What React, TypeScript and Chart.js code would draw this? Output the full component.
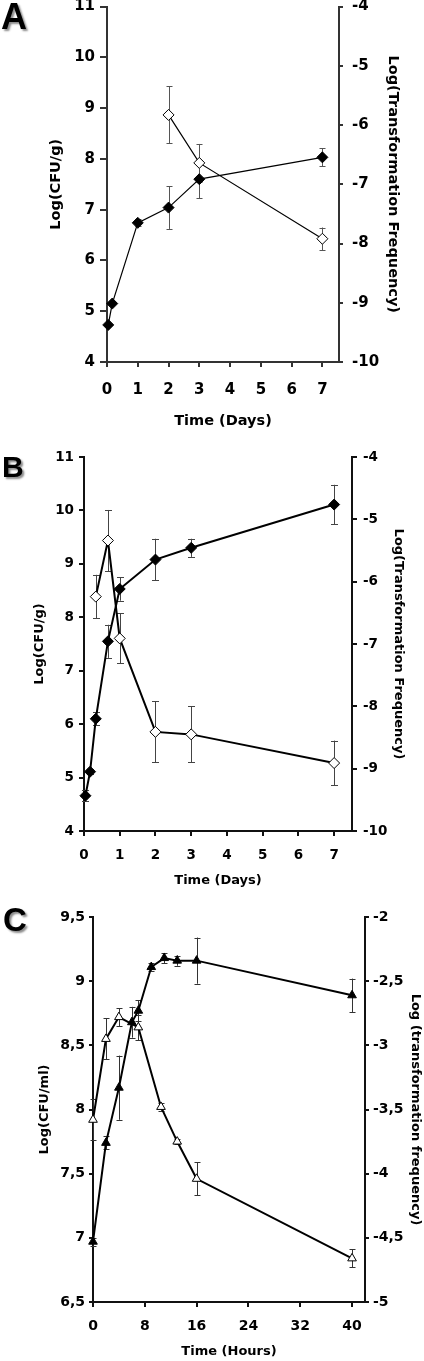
import React, { useEffect, useRef } from 'react';
import { Chart, registerables } from 'chart.js';

Chart.register(...registerables);

const FONT = "'DejaVu Sans', 'Liberation Sans', sans-serif";
const LETTER_FONT = "'Liberation Sans', Arial, sans-serif";

// ---------------- Panel A ----------------
const daysA_cfu = [0.04, 0.17, 1, 2, 3, 7];
const cfuA = [4.73, 5.15, 6.74, 7.04, 7.6, 8.03];
const cfuA_err = [0, 0, 0.07, 0.42, 0.38, 0.18];
const daysA_tf = [2, 3, 7];
const tfA = [-5.83, -6.64, -7.92];
const tfA_err = [0.48, 0.32, 0.19];
const xTicksA = [0, 1, 2, 3, 4, 5, 6, 7];
const yTicksA = [4, 5, 6, 7, 8, 9, 10, 11];
const y2TicksA = [-10, -9, -8, -7, -6, -5, -4];

// ---------------- Panel B ----------------
const daysB_cfu = [0.04, 0.17, 0.33, 0.67, 1, 2, 3, 7];
const cfuB = [4.66, 5.11, 6.1, 7.55, 8.53, 9.08, 9.3, 10.11];
const cfuB_err = [0.1, 0.05, 0.12, 0.31, 0.22, 0.39, 0.17, 0.37];
const daysB_tf = [0.33, 0.67, 1, 2, 3, 7];
const tfB = [-6.24, -5.34, -6.91, -8.41, -8.45, -8.91];
const tfB_err = [0.35, 0.49, 0.4, 0.49, 0.45, 0.36];
const xTicksB = [0, 1, 2, 3, 4, 5, 6, 7];
const yTicksB = [4, 5, 6, 7, 8, 9, 10, 11];
const y2TicksB = [-10, -9, -8, -7, -6, -5, -4];

// ---------------- Panel C ----------------
const hoursC_cfu = [0, 2, 4, 6, 7, 9, 11, 13, 16, 40];
const cfuC = [6.97, 7.74, 8.17, 8.68, 8.77, 9.11, 9.18, 9.16, 9.16, 8.89];
const cfuC_err = [0.03, 0.05, 0.25, 0.12, 0.08, 0.03, 0.04, 0.04, 0.18, 0.13];
const hoursC_tf = [0, 2, 4, 7, 10.5, 13, 16, 40];
const tfC = [-3.58, -2.95, -2.78, -2.86, -3.48, -3.75, -4.04, -4.66];
const tfC_err = [0.16, 0.16, 0.07, 0.1, 0.03, 0.02, 0.13, 0.07];
const xTicksC = [0, 8, 16, 24, 32, 40];
const yTicksC = [6.5, 7, 7.5, 8, 8.5, 9, 9.5];
const y2TicksC = [-5, -4.5, -4, -3.5, -3, -2.5, -2];

type Series = {
  xs: number[];
  ys: number[];
  errs: number[];
  axis: 'y' | 'y2';
  filled: boolean;
};

type PanelSpec = {
  letter: string;
  letterSize: number;
  letterX: number;
  letterY: number;
  top: number;
  W: number;
  H: number;
  area: { left: number; right: number; top: number; bottom: number };
  xMin: number;
  xMax: number;
  xTicks: number[];
  xTitle: string;
  yMin: number;
  yMax: number;
  yTicks: number[];
  yTitle: string;
  y2Min: number;
  y2Max: number;
  y2Ticks: number[];
  y2Title: string;
  comma: boolean;
  tickSize: number;
  titleSize: number;
  yTickLen: number;
  yTickPad: number;
  y2TickLen: number;
  y2TickPad: number;
  xTickLen: number;
  xTickPad: number;
  yTitlePad: number;
  y2TitlePad: number;
  xTitlePad: number;
  axisColor: string;
  axisWidth: number;
  lineWidth: number;
  pointStyle: string;
  pointRadius: number;
  errColor: string;
  capHalf: number;
  series: Series[];
};

const panels: PanelSpec[] = [
  {
    letter: 'A', letterSize: 36, letterX: 1, letterY: 29,
    top: 0, W: 424, H: 432,
    area: { left: 107, right: 339, top: 6, bottom: 362 },
    xMin: 0, xMax: 7.54, xTicks: xTicksA, xTitle: 'Time (Days)',
    yMin: 4, yMax: 11, yTicks: yTicksA, yTitle: 'Log(CFU/g)',
    y2Min: -10, y2Max: -4, y2Ticks: y2TicksA, y2Title: 'Log(Transformation Frequency)',
    comma: false, tickSize: 15, titleSize: 14.5,
    yTickLen: 7, yTickPad: 5, y2TickLen: 4, y2TickPad: 9, xTickLen: 5, xTickPad: 14,
    yTitlePad: 48, y2TitlePad: 23, xTitlePad: 1.6,
    axisColor: '#333', axisWidth: 2, lineWidth: 1.2,
    pointStyle: 'rectRot', pointRadius: 5.5, errColor: '#555', capHalf: 3,
    series: [
      { xs: daysA_cfu, ys: cfuA, errs: cfuA_err, axis: 'y', filled: true },
      { xs: daysA_tf, ys: tfA, errs: tfA_err, axis: 'y2', filled: false },
    ],
  },
  {
    letter: 'B', letterSize: 30, letterX: 2, letterY: 45,
    top: 432, W: 424, H: 460,
    area: { left: 84, right: 352, top: 25, bottom: 399 },
    xMin: 0, xMax: 7.5, xTicks: xTicksB, xTitle: 'Time (Days)',
    yMin: 4, yMax: 11, yTicks: yTicksB, yTitle: 'Log(CFU/g)',
    y2Min: -10, y2Max: -4, y2Ticks: y2TicksB, y2Title: 'Log(Transformation Frequency)',
    comma: false, tickSize: 13.5, titleSize: 13,
    yTickLen: 5, yTickPad: 5, y2TickLen: 5, y2TickPad: 6, xTickLen: 5, xTickPad: 11,
    yTitlePad: 32, y2TitlePad: 18, xTitlePad: 4,
    axisColor: '#111', axisWidth: 2, lineWidth: 2,
    pointStyle: 'rectRot', pointRadius: 5.5, errColor: '#444', capHalf: 3.5,
    series: [
      { xs: daysB_cfu, ys: cfuB, errs: cfuB_err, axis: 'y', filled: true },
      { xs: daysB_tf, ys: tfB, errs: tfB_err, axis: 'y2', filled: false },
    ],
  },
  {
    letter: 'C', letterSize: 33, letterX: 3, letterY: 39,
    top: 892, W: 424, H: 469,
    area: { left: 93, right: 365, top: 25, bottom: 410 },
    xMin: 0, xMax: 42, xTicks: xTicksC, xTitle: 'Time (Hours)',
    yMin: 6.5, yMax: 9.5, yTicks: yTicksC, yTitle: 'Log(CFU/ml)',
    y2Min: -5, y2Max: -2, y2Ticks: y2TicksC, y2Title: 'Log (transformation frequency)',
    comma: true, tickSize: 14, titleSize: 13,
    yTickLen: 4, yTickPad: 4, y2TickLen: 4, y2TickPad: 4, xTickLen: 5, xTickPad: 11,
    yTitlePad: 37, y2TitlePad: 1.2, xTitlePad: 1.5,
    axisColor: '#111', axisWidth: 2, lineWidth: 2,
    pointStyle: 'triangle', pointRadius: 5, errColor: '#333', capHalf: 3,
    series: [
      { xs: hoursC_cfu, ys: cfuC, errs: cfuC_err, axis: 'y', filled: true },
      { xs: hoursC_tf, ys: tfC, errs: tfC_err, axis: 'y2', filled: false },
    ],
  },
];

function buildConfig(p: PanelSpec): any {
  const fmt = (v: number) => (p.comma ? String(v).replace('.', ',') : String(v));
  const tickFont = { family: FONT, size: p.tickSize, weight: 'bold' as const };
  const titleFont = { family: FONT, size: p.titleSize, weight: 'bold' as const };
  const grid = (len: number) => ({
    drawOnChartArea: false,
    drawTicks: true,
    tickLength: len,
    color: p.axisColor,
    lineWidth: 2,
  });
  const border = { display: true, color: p.axisColor, width: p.axisWidth };

  const errorBars = {
    id: 'errorBars' + p.letter,
    beforeDatasetsDraw(chart: any) {
      const ctx = chart.ctx;
      const xs = chart.scales.x;
      ctx.save();
      ctx.strokeStyle = p.errColor;
      ctx.lineWidth = 1;
      chart.data.datasets.forEach((ds: any) => {
        const ys = chart.scales[ds.yAxisID];
        ds.data.forEach((pt: any, j: number) => {
          const e = ds.errors[j];
          if (!e) return;
          const px = Math.round(xs.getPixelForValue(pt.x)) + 0.5;
          const t = ys.getPixelForValue(pt.y + e);
          const b = ys.getPixelForValue(pt.y - e);
          ctx.beginPath();
          ctx.moveTo(px, t);
          ctx.lineTo(px, b);
          ctx.moveTo(px - p.capHalf, Math.round(t) + 0.5);
          ctx.lineTo(px + p.capHalf, Math.round(t) + 0.5);
          ctx.moveTo(px - p.capHalf, Math.round(b) + 0.5);
          ctx.lineTo(px + p.capHalf, Math.round(b) + 0.5);
          ctx.stroke();
        });
      });
      ctx.restore();
    },
  };

  const letterPlugin = {
    id: 'letter' + p.letter,
    afterDraw(chart: any) {
      const ctx = chart.ctx;
      ctx.save();
      ctx.font = `bold ${p.letterSize}px ${LETTER_FONT}`;
      ctx.textAlign = 'left';
      ctx.textBaseline = 'alphabetic';
      ctx.shadowColor = 'rgba(0,0,0,0.45)';
      ctx.shadowOffsetX = 2;
      ctx.shadowOffsetY = 2;
      ctx.shadowBlur = 2;
      ctx.fillStyle = '#000';
      ctx.fillText(p.letter, p.letterX, p.letterY);
      ctx.restore();
    },
  };

  return {
    type: 'line',
    data: {
      datasets: p.series.map((s) => ({
        data: s.xs.map((x, i) => ({ x, y: s.ys[i] })),
        errors: s.errs,
        yAxisID: s.axis,
        borderColor: '#000',
        borderWidth: p.lineWidth,
        backgroundColor: s.filled ? '#000' : '#fff',
        pointStyle: p.pointStyle,
        pointRadius: p.pointRadius,
        pointBackgroundColor: s.filled ? '#000' : '#fff',
        pointBorderColor: '#000',
        pointBorderWidth: 1,
        tension: 0,
        fill: false,
        clip: false,
      })),
    },
    options: {
      animation: false,
      responsive: false,
      devicePixelRatio: 1,
      events: [],
      layout: { padding: { top: p.area.top, left: 0, right: 0, bottom: 0 } },
      plugins: { legend: { display: false }, tooltip: { enabled: false } },
      scales: {
        x: {
          type: 'linear',
          position: 'bottom',
          min: p.xMin,
          max: p.xMax,
          afterBuildTicks: (s: any) => {
            s.ticks = p.xTicks.map((v) => ({ value: v }));
          },
          afterFit: (s: any) => {
            s.height = p.H - p.area.bottom;
            s.paddingLeft = 0;
            s.paddingRight = 0;
          },
          ticks: {
            font: tickFont,
            color: '#000',
            padding: p.xTickPad,
            maxRotation: 0,
            autoSkip: false,
            callback: (v: any) => String(v),
          },
          grid: grid(p.xTickLen),
          border,
          title: {
            display: true,
            text: p.xTitle,
            font: titleFont,
            color: '#000',
            padding: { top: 0, bottom: p.xTitlePad },
          },
        },
        y: {
          type: 'linear',
          position: 'left',
          min: p.yMin,
          max: p.yMax,
          afterBuildTicks: (s: any) => {
            s.ticks = p.yTicks.map((v) => ({ value: v }));
          },
          afterFit: (s: any) => {
            s.width = p.area.left;
            s.paddingTop = 0;
            s.paddingBottom = 0;
          },
          ticks: {
            font: tickFont,
            color: '#000',
            padding: p.yTickPad,
            autoSkip: false,
            callback: (v: any) => fmt(v),
          },
          grid: grid(p.yTickLen),
          border,
          title: {
            display: true,
            text: p.yTitle,
            font: titleFont,
            color: '#000',
            padding: { top: p.yTitlePad, bottom: 0 },
          },
        },
        y2: {
          type: 'linear',
          position: 'right',
          min: p.y2Min,
          max: p.y2Max,
          afterBuildTicks: (s: any) => {
            s.ticks = p.y2Ticks.map((v) => ({ value: v }));
          },
          afterFit: (s: any) => {
            s.width = p.W - p.area.right;
            s.paddingTop = 0;
            s.paddingBottom = 0;
          },
          ticks: {
            font: tickFont,
            color: '#000',
            padding: p.y2TickPad,
            autoSkip: false,
            callback: (v: any) => fmt(v),
          },
          grid: grid(p.y2TickLen),
          border,
          title: {
            display: true,
            text: p.y2Title,
            font: titleFont,
            color: '#000',
            padding: { top: p.y2TitlePad, bottom: 0 },
          },
        },
      },
    },
    plugins: [errorBars, letterPlugin],
  };
}

function Panel({ spec }: { spec: PanelSpec }) {
  const ref = useRef<HTMLCanvasElement | null>(null);
  useEffect(() => {
    if (!ref.current) return;
    const chart = new Chart(ref.current, buildConfig(spec));
    return () => chart.destroy();
  }, [spec]);
  return (
    <canvas
      ref={ref}
      width={spec.W}
      height={spec.H}
      style={{ position: 'absolute', left: 0, top: spec.top, width: spec.W, height: spec.H, display: 'block' }}
    />
  );
}

export default function App() {
  return (
    <div style={{ position: 'absolute', left: 0, top: 0, width: 424, height: 1361, background: '#fff' }}>
      {panels.map((p) => (
        <Panel key={p.letter} spec={p} />
      ))}
    </div>
  );
}
